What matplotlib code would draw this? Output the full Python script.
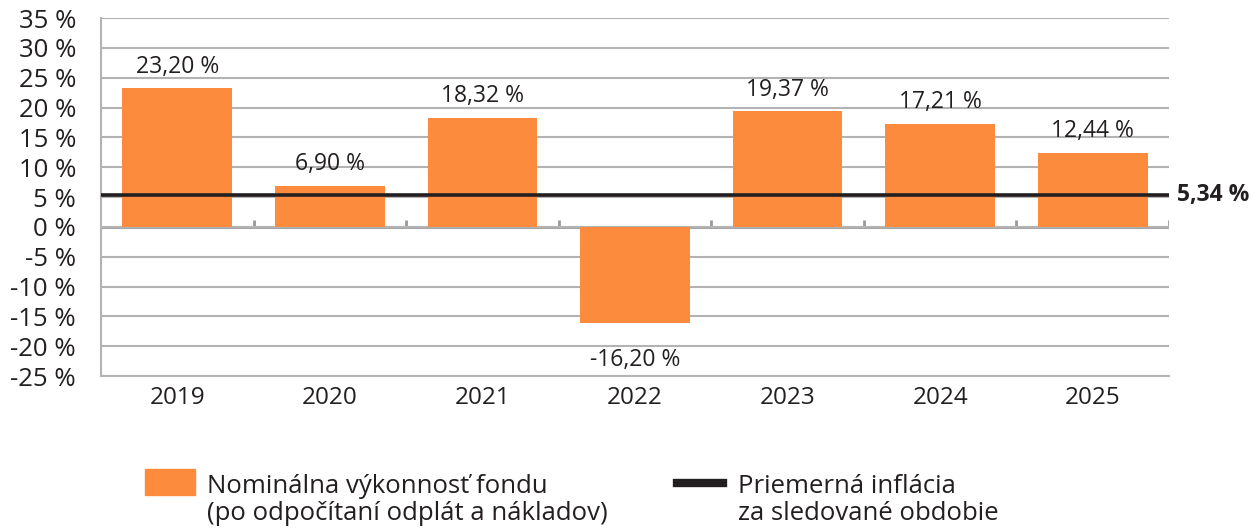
import matplotlib
matplotlib.use("Agg")
import matplotlib.pyplot as plt
from matplotlib.patches import Rectangle
from matplotlib.lines import Line2D
import numpy as np

years = ["2019", "2020", "2021", "2022", "2023", "2024", "2025"]
performance = [23.20, 6.90, 18.32, -16.20, 19.37, 17.21, 12.44]
inflation = 5.34

plt.rcParams["font.family"] = ["Open Sans", "DejaVu Sans"]
orange = "#fd8b3d"
dark = "#231f20"
grid = "#b3b3b3"

W, H = 1252, 528
fig = plt.figure(figsize=(W / 100, H / 100), dpi=100)
ax = fig.add_axes([101 / W, 1 - 376 / H, 1068 / W, 358 / H])

x = np.arange(len(years))
ax.bar(x, performance, width=0.72, color=orange, zorder=2)
ax.set_xlim(-0.5, len(years) - 0.5)
ax.set_ylim(-25, 35)
ax.set_yticks(np.arange(-25, 36, 5))
ax.set_yticklabels([f"{v} %" for v in range(-25, 36, 5)], fontsize=18.5, color=dark)
ax.yaxis.grid(True, color=grid, lw=1.5, zorder=0)
ax.tick_params(axis="y", length=0, pad=18)

ax.set_xticks(x)
ax.set_xticklabels(years, fontsize=17.5, color=dark)
ax.tick_params(axis="x", length=0, pad=7)

for s in ["top", "right"]:
    ax.spines[s].set_visible(False)
ax.spines["left"].set_color(grid)
ax.spines["left"].set_linewidth(1.5)
ax.spines["bottom"].set_color(grid)
ax.spines["bottom"].set_linewidth(1.5)

# zero line and category separators
ax.axhline(0, color="#999999", lw=2, zorder=1)
ax.vlines(np.arange(len(years)) + 0.5, 0, 1.2, color="#999999", lw=2, zorder=1)

# inflation line
ax.axhline(inflation, color=dark, lw=2.6, zorder=3)
ax.annotate(f"{inflation:.2f} %".replace(".", ","), xy=(1, inflation),
            xycoords=("axes fraction", "data"), xytext=(6, 0),
            textcoords="offset points", va="center", ha="left",
            fontsize=16.5, fontweight="bold", color=dark, annotation_clip=False)

for xi, v in zip(x, performance):
    label = f"{v:.2f} %".replace(".", ",")
    if v >= 0:
        ax.annotate(label, (xi, v), xytext=(0, 7), textcoords="offset points",
                    ha="center", va="bottom", fontsize=16.5, color=dark)
    else:
        ax.annotate(label, (xi, v), xytext=(0, -18), textcoords="offset points",
                    ha="center", va="top", fontsize=16.5, color=dark)

# legend drawn in figure coordinates
fig.patches.append(Rectangle((145 / W, 1 - 495 / H), 50 / W, 26 / H,
                             transform=fig.transFigure, color=orange))
fig.lines.append(Line2D([677 / W, 723 / W], [1 - 483 / H, 1 - 483 / H],
                        transform=fig.transFigure, color=dark, lw=6))
fig.text(207 / W, 1 - 500 / H, "Nominálna výkonnosť fondu\n(po odpočítaní odplát a nákladov)",
         fontsize=18.5, color=dark, va="center", ha="left", linespacing=1.12)
fig.text(738 / W, 1 - 500 / H, "Priemerná inflácia\nza sledované obdobie",
         fontsize=18.5, color=dark, va="center", ha="left", linespacing=1.12)

fig.savefig("out.png", dpi=100)
